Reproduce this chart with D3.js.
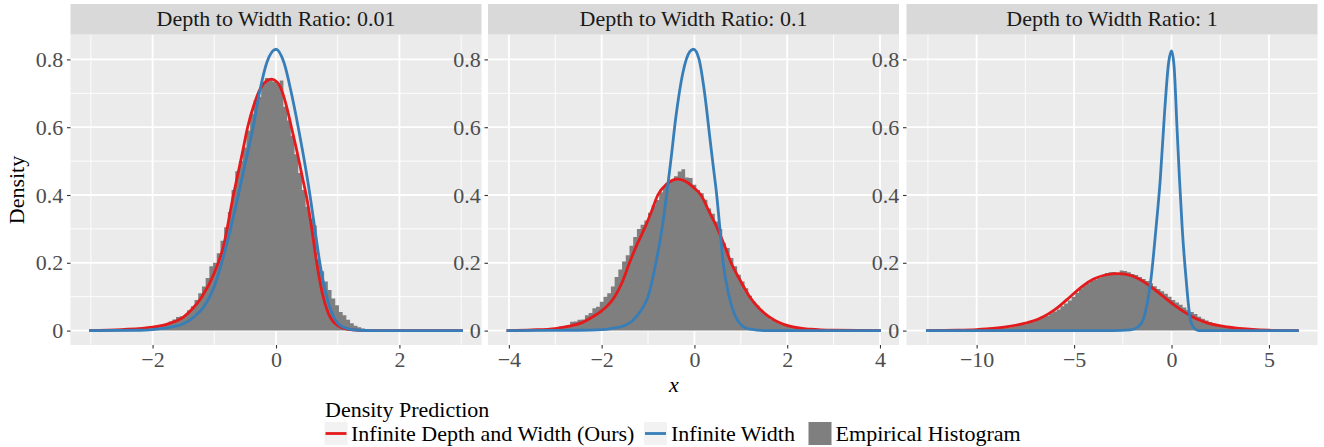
<!DOCTYPE html>
<html>
<head>
<meta charset="utf-8">
<script src="https://cdn.jsdelivr.net/npm/d3@7"></script>
<style>
    body { margin: 0; background: #fff; }
    svg { display: block; }
    svg text { font-family: "Liberation Serif", "Times New Roman", serif; }
</style>
</head>
<body>
<svg id="chart" width="1324" height="447"></svg>
<script>
var facetTitles = ['Depth to Width Ratio: 0.01', 'Depth to Width Ratio: 0.1', 'Depth to Width Ratio: 1'];
var xLimits = [[-3.33, 3.33], [-4.45, 4.41], [-13.6, 7.49]];
var xBreaks = [[-2, 0, 2], [-4, -2, 0, 2, 4], [-10, -5, 0, 5]];
var xMinorBreaks = [[-3, -1, 1, 3], [-3, -1, 1, 3], [-12.5, -7.5, -2.5, 2.5]];
var yLimits = [-0.0425, 0.8735];
var yBreaks = [0, 0.2, 0.4, 0.6, 0.8];
var yMinorBreaks = [0.1, 0.3, 0.5, 0.7];
var legendTitle = 'Density Prediction';
var seriesNames = ['Infinite Depth and Width (Ours)', 'Infinite Width', 'Empirical Histogram'];

// histograms: left edge of first bin, bin width, density per bin
var histStart = [-2.04, -3.40, -11.40];
var histWidth = [0.06, 0.08, 0.19];
var hist1 = [0.006, 0.008, 0.01, 0.014, 0.02, 0.027, 0.033, 0.04, 0.042, 0.045,
    0.06, 0.072, 0.09, 0.11, 0.13, 0.155, 0.19, 0.2, 0.228, 0.265,
    0.305, 0.35, 0.415, 0.47, 0.5, 0.54, 0.59, 0.64, 0.68, 0.69,
    0.725, 0.745, 0.742, 0.735, 0.73, 0.738, 0.66, 0.62, 0.575, 0.52,
    0.465, 0.415, 0.365, 0.33, 0.31, 0.21, 0.175, 0.145, 0.12, 0.095,
    0.075, 0.055, 0.045, 0.032, 0.022, 0.014, 0.01, 0.006, 0.004, 0.002];
var hist2 = [0.002, 0.003, 0.005, 0.007, 0.008, 0.009, 0.012, 0.013, 0.014, 0.026,
    0.027, 0.032, 0.033, 0.045, 0.052, 0.066, 0.07, 0.085, 0.1, 0.11,
    0.13, 0.158, 0.18, 0.204, 0.222, 0.25, 0.276, 0.3, 0.312, 0.325,
    0.348, 0.37, 0.385, 0.408, 0.425, 0.436, 0.444, 0.455, 0.469, 0.476,
    0.452, 0.45, 0.43, 0.415, 0.405, 0.386, 0.36, 0.345, 0.322, 0.3,
    0.258, 0.244, 0.214, 0.19, 0.165, 0.145, 0.125, 0.103, 0.086, 0.074,
    0.062, 0.052, 0.042, 0.032, 0.028, 0.022, 0.018, 0.016, 0.012, 0.011,
    0.009, 0.008, 0.007, 0.006, 0.005, 0.004, 0.003, 0.002];
var hist3 = [0.001, 0.001, 0.002, 0.002, 0.003, 0.003, 0.003, 0.004, 0.004, 0.005,
    0.005, 0.006, 0.006, 0.007, 0.008, 0.009, 0.010, 0.012, 0.015, 0.017,
    0.019, 0.023, 0.026, 0.031, 0.034, 0.040, 0.044, 0.051, 0.056, 0.062,
    0.072, 0.08, 0.089, 0.1, 0.112, 0.124, 0.133, 0.14, 0.146, 0.151,
    0.156, 0.165, 0.17, 0.172, 0.173, 0.17, 0.177, 0.176, 0.172, 0.167,
    0.164, 0.158, 0.152, 0.146, 0.14, 0.131, 0.123, 0.116, 0.109, 0.1,
    0.09, 0.083, 0.076, 0.068, 0.061, 0.055, 0.049, 0.041, 0.035, 0.03,
    0.025, 0.02, 0.017, 0.013, 0.011, 0.009, 0.007, 0.005, 0.004, 0.003,
    0.003, 0.002, 0.002, 0.001];

// predicted densities, [x, density]
var ours1 = [[-3.03, 0], [-2.5, 0.003], [-2.0, 0.01], [-1.75, 0.02], [-1.5, 0.04], [-1.35, 0.065],
    [-1.2, 0.1], [-1.0, 0.17], [-0.85, 0.25], [-0.69, 0.4], [-0.55, 0.52], [-0.46, 0.6],
    [-0.35, 0.67], [-0.25, 0.715], [-0.15, 0.737], [-0.07, 0.742], [0.02, 0.733], [0.1, 0.705],
    [0.18, 0.655], [0.25, 0.6], [0.35, 0.52], [0.43, 0.45], [0.5, 0.39], [0.58, 0.3],
    [0.66, 0.2], [0.75, 0.11], [0.85, 0.05], [1.0, 0.015], [1.2, 0.003], [1.5, 0], [3.03, 0]];
var inf1 = [[-3.03, 0], [-2.2, 0.001], [-2.0, 0.003], [-1.7, 0.01], [-1.5, 0.02], [-1.33, 0.04],
    [-1.17, 0.07], [-1.0, 0.13], [-0.88, 0.2], [-0.75, 0.29], [-0.61, 0.4], [-0.49, 0.5],
    [-0.37, 0.6], [-0.27, 0.7], [-0.15, 0.79], [0.0, 0.83], [0.13, 0.79], [0.25, 0.7],
    [0.36, 0.6], [0.46, 0.5], [0.55, 0.4], [0.63, 0.3], [0.71, 0.2], [0.8, 0.115],
    [0.9, 0.055], [1.0, 0.022], [1.15, 0.006], [1.35, 0.001], [1.6, 0], [3.03, 0]];
var ours2 = [[-4.05, 0], [-3.5, 0.002], [-3.0, 0.006], [-2.7, 0.013], [-2.4, 0.025], [-2.2, 0.04],
    [-2.0, 0.058], [-1.72, 0.1], [-1.55, 0.145], [-1.4, 0.2], [-1.25, 0.25], [-1.08, 0.3],
    [-0.93, 0.35], [-0.79, 0.4], [-0.6, 0.432], [-0.36, 0.447], [-0.15, 0.437], [0.0, 0.42],
    [0.14, 0.4], [0.32, 0.35], [0.5, 0.3], [0.65, 0.25], [0.79, 0.2], [0.98, 0.15],
    [1.19, 0.1], [1.4, 0.065], [1.62, 0.04], [2.05, 0.013], [2.5, 0.004], [3.0, 0.001], [4.02, 0]];
var inf2 = [[-4.05, 0], [-2.5, 0.001], [-2.0, 0.003], [-1.8, 0.006], [-1.5, 0.015], [-1.33, 0.03],
    [-1.15, 0.06], [-1.0, 0.1], [-0.83, 0.2], [-0.7, 0.3], [-0.6, 0.4], [-0.51, 0.5],
    [-0.4, 0.63], [-0.25, 0.76], [-0.1, 0.823], [-0.02, 0.83], [0.1, 0.8], [0.22, 0.7],
    [0.34, 0.56], [0.41, 0.48], [0.48, 0.4], [0.55, 0.3], [0.62, 0.2], [0.75, 0.1],
    [0.93, 0.03], [1.05, 0.012], [1.2, 0.004], [1.5, 0], [4.02, 0]];
var ours3 = [[-12.6, 0], [-11, 0.001], [-10, 0.003], [-9.5, 0.005], [-8.5, 0.011], [-7.5, 0.022],
    [-6.8, 0.035], [-6.3, 0.05], [-5.8, 0.07], [-5.2, 0.1], [-4.6, 0.13], [-4.0, 0.152],
    [-3.4, 0.164], [-2.72, 0.168], [-2.1, 0.163], [-1.6, 0.15], [-1.0, 0.127], [-0.41, 0.1],
    [0.2, 0.073], [0.79, 0.05], [1.3, 0.034], [1.82, 0.023], [2.85, 0.011], [4.0, 0.004],
    [5.0, 0.001], [6.53, 0]];
var inf3 = [[-12.6, 0], [-3, 0], [-2.1, 0.002], [-1.7, 0.012], [-1.44, 0.035], [-1.25, 0.08],
    [-1.06, 0.15], [-0.8, 0.3], [-0.58, 0.445], [-0.35, 0.65], [-0.15, 0.79], [0.0, 0.825],
    [0.13, 0.78], [0.28, 0.6], [0.41, 0.445], [0.55, 0.3], [0.75, 0.15], [0.96, 0.035],
    [1.15, 0.008], [1.39, 0], [6.53, 0]];

var hists = [hist1, hist2, hist3];
var oursLines = [ours1, ours2, ours3];
var infLines = [inf1, inf2, inf3];

var colOurs = '#E41A1C';
var colInf = '#377EB8';
var colHist = '#7F7F7F';
var serif = '"Liberation Serif", "Times New Roman", serif';

var panelLeft = [70.5, 488, 906.5];
var panelWidth = 411;
var panelTop = 34.5;
var panelBottom = 345;
var stripTop = 4;
var fontSize = 22;

var svg = d3.select('#chart');
var y = d3.scaleLinear().domain(yLimits).range([panelBottom, panelTop]);

facetTitles.forEach(function (title, i) {
    var left = panelLeft[i];
    var x = d3.scaleLinear().domain(xLimits[i]).range([left, left + panelWidth]);
    var g = svg.append('g');

    g.append('rect')
        .attr('x', left).attr('y', panelTop)
        .attr('width', panelWidth).attr('height', panelBottom - panelTop)
        .attr('fill', '#EBEBEB');

    // grid
    var grid = g.append('g').attr('stroke', '#fff');
    grid.selectAll('line.ymin').data(yMinorBreaks).enter().append('line')
        .attr('x1', left).attr('x2', left + panelWidth)
        .attr('y1', function (d) { return y(d); }).attr('y2', function (d) { return y(d); })
        .attr('stroke-width', 0.9);
    grid.selectAll('line.xmin').data(xMinorBreaks[i]).enter().append('line')
        .attr('x1', function (d) { return x(d); }).attr('x2', function (d) { return x(d); })
        .attr('y1', panelTop).attr('y2', panelBottom)
        .attr('stroke-width', 0.9);
    grid.selectAll('line.ymaj').data(yBreaks).enter().append('line')
        .attr('x1', left).attr('x2', left + panelWidth)
        .attr('y1', function (d) { return y(d); }).attr('y2', function (d) { return y(d); })
        .attr('stroke-width', 1.8);
    grid.selectAll('line.xmaj').data(xBreaks[i]).enter().append('line')
        .attr('x1', function (d) { return x(d); }).attr('x2', function (d) { return x(d); })
        .attr('y1', panelTop).attr('y2', panelBottom)
        .attr('stroke-width', 1.8);

    // strip
    g.append('rect')
        .attr('x', left).attr('y', stripTop)
        .attr('width', panelWidth).attr('height', panelTop - stripTop)
        .attr('fill', '#D9D9D9');
    g.append('text')
        .attr('x', left + panelWidth / 2).attr('y', 25.7)
        .attr('text-anchor', 'middle')
        .attr('font-family', serif)
        .attr('font-size', fontSize)
        .attr('fill', '#1A1A1A')
        .text(title);

    // histogram, bins drawn as one stepped outline so neighbours don't seam
    var start = histStart[i], bw = histWidth[i];
    var bins = hists[i].map(function (d, j) { return [start + j * bw, d]; });
    bins.push([start + hists[i].length * bw, 0]);
    var area = d3.area()
        .x(function (d) { return x(d[0]); })
        .y0(y(0))
        .y1(function (d) { return y(d[1]); })
        .curve(d3.curveStepAfter);
    g.append('path').attr('d', area(bins)).attr('fill', colHist);

    var line = d3.line()
        .x(function (d) { return x(d[0]); })
        .y(function (d) { return y(d[1]); })
        .curve(d3.curveMonotoneX);
    g.append('path').attr('d', line(oursLines[i]))
        .attr('fill', 'none').attr('stroke', colOurs)
        .attr('stroke-width', 2.8).attr('stroke-linejoin', 'round');
    g.append('path').attr('d', line(infLines[i]))
        .attr('fill', 'none').attr('stroke', colInf)
        .attr('stroke-width', 2.8).attr('stroke-linejoin', 'round');

    // axes
    var ax = g.append('g')
        .attr('transform', 'translate(0,' + panelBottom + ')')
        .call(d3.axisBottom(x).tickValues(xBreaks[i]).tickSize(3.5).tickPadding(3)
            .tickFormat(d3.format('')));
    var ay = g.append('g')
        .attr('transform', 'translate(' + left + ',0)')
        .call(d3.axisLeft(y).tickValues(yBreaks).tickSize(3.5).tickPadding(3.8)
            .tickFormat(function (d) { return d === 0 ? '0' : d3.format('.1f')(d); }));
    [ax, ay].forEach(function (a) {
        a.select('.domain').remove();
        a.attr('font-family', serif).attr('font-size', fontSize);
        a.selectAll('line').attr('stroke', '#333333').attr('stroke-width', 1.1);
        a.selectAll('text').attr('fill', '#4D4D4D').attr('font-family', serif);
    });
});

// axis titles
svg.append('text')
    .attr('transform', 'translate(24,190) rotate(-90)')
    .attr('text-anchor', 'middle')
    .attr('font-family', serif)
    .attr('font-size', fontSize)
    .text('Density');
svg.append('text')
    .attr('x', 674).attr('y', 392)
    .attr('text-anchor', 'middle')
    .attr('font-family', serif)
    .attr('font-size', fontSize)
    .attr('font-style', 'italic')
    .text('x');

// legend
var legend = svg.append('g').attr('font-family', serif);
legend.append('text')
    .attr('x', 325).attr('y', 417)
    .attr('font-size', fontSize)
    .text(legendTitle);
var keyX = [324.5, 644, 808.5];
var labelX = [351, 671, 835.6];
var keyTop = 422, keySize = 23;
var keys = legend.selectAll('g.key')
    .data(seriesNames)
    .enter()
    .append('g');
keys.append('rect')
    .attr('x', function (d, i) { return keyX[i]; })
    .attr('y', keyTop)
    .attr('width', keySize).attr('height', keySize)
    .attr('fill', function (d, i) { return i === 2 ? colHist : '#F2F2F2'; });
keys.filter(function (d, i) { return i < 2; })
    .append('line')
    .attr('x1', function (d, i) { return keyX[i] + 1; })
    .attr('x2', function (d, i) { return keyX[i] + keySize - 1; })
    .attr('y1', keyTop + keySize / 2).attr('y2', keyTop + keySize / 2)
    .attr('stroke', function (d, i) { return [colOurs, colInf][i]; })
    .attr('stroke-width', 2.8);
keys.append('text')
    .attr('x', function (d, i) { return labelX[i]; })
    .attr('y', keyTop + keySize / 2 + 7.6)
    .attr('font-family', serif)
    .attr('font-size', fontSize)
    .attr('fill', '#000')
    .text(function (d) { return d; });
</script>
</body>
</html>
